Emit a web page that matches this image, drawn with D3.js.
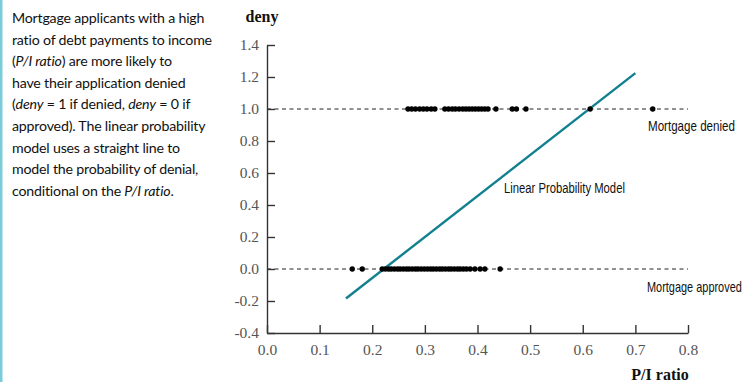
<!DOCTYPE html>
<html><head><meta charset="utf-8">
<script src="https://cdn.jsdelivr.net/npm/d3@7"></script>
<style>
html,body{margin:0;padding:0;background:#fff;}
svg{display:block;}
</style></head>
<body>
<svg id="c" width="745" height="382"></svg>
<script>
// ---- data ----
const deniedPI = [0.268, 0.275, 0.282, 0.290, 0.297, 0.304, 0.312, 0.319,
  0.338, 0.345, 0.352, 0.358, 0.365, 0.372, 0.378, 0.384, 0.390, 0.396, 0.402, 0.408, 0.414, 0.420,
  0.435, 0.466, 0.474, 0.492, 0.614, 0.733];
const approvedPI = [0.162, 0.181,
  0.219, 0.225, 0.231, 0.236, 0.242, 0.248, 0.253, 0.259, 0.265, 0.270, 0.276, 0.282, 0.287,
  0.293, 0.299, 0.305, 0.311, 0.316, 0.322, 0.328, 0.333, 0.339, 0.345, 0.350, 0.356, 0.362,
  0.367, 0.373, 0.379, 0.386, 0.395, 0.405, 0.414, 0.443];
const lpmPI = [0.15, 0.70];
const lpmDeny = [-0.184, 1.224];
const xTicks = [0, 0.1, 0.2, 0.3, 0.4, 0.5, 0.6, 0.7, 0.8];
const xTickLabels = ["0.0","0.1","0.2","0.3","0.4","0.5","0.6","0.7","0.8"];
const yTicks = [-0.4, -0.2, 0, 0.2, 0.4, 0.6, 0.8, 1.0, 1.2, 1.4];
const yTickLabels = ["-0.4","-0.2","0.0","0.2","0.4","0.6","0.8","1.0","1.2","1.4"];
const captionLines = [
  [["Mortgage applicants with a high", false]],
  [["ratio of debt payments to income", false]],
  [["(", false], ["P/I ratio", true], [") are more likely to", false]],
  [["have their application denied", false]],
  [["(", false], ["deny", true], [" = 1 if denied, ", false], ["deny", true], [" = 0 if", false]],
  [["approved). The linear probability", false]],
  [["model uses a straight line to", false]],
  [["model the probability of denial,", false]],
  [["conditional on the ", false], ["P/I ratio", true], [".", false]]
];

const svg = d3.select("#c");
const x = d3.scaleLinear().domain([0, 0.8]).range([267, 688]);
const y = d3.scaleLinear().domain([-0.4, 1.4]).range([333, 45]);

// left accent bar
svg.append("rect").attr("x", 0).attr("y", 0).attr("width", 2.5).attr("height", 382).attr("fill", "#7ccbd8");

// caption
const cap = svg.append("text").attr("font-family", "Lato, 'Open Sans', sans-serif")
  .attr("font-size", 14.2).attr("letter-spacing", -0.2).attr("fill", "#111");
captionLines.forEach((line, i) => {
  const t = cap.append("tspan").attr("x", 12).attr("y", 23 + i * 21.6);
  line.forEach(([s, it], j) => {
    const sp = j === 0 ? t : cap.append("tspan");
    sp.text(s).attr("font-style", it ? "italic" : null);
  });
});

// dashed reference lines
[0, 1].forEach(v => {
  svg.append("line").attr("x1", x(0)).attr("x2", x(0.8)).attr("y1", y(v)).attr("y2", y(v))
    .attr("stroke", "#222").attr("stroke-width", 1).attr("stroke-dasharray", "4,3.5");
});

// axes
const yAxis = d3.axisLeft(y).tickValues(yTicks).tickFormat((d, i) => yTickLabels[i])
  .tickSizeInner(-8).tickSizeOuter(0).tickPadding(8);
const xAxis = d3.axisBottom(x).tickValues(xTicks).tickFormat((d, i) => xTickLabels[i])
  .tickSizeInner(-8).tickSizeOuter(0).tickPadding(11);
const gy = svg.append("g").attr("transform", `translate(${x(0)},0)`).call(yAxis);
const gx = svg.append("g").attr("transform", `translate(0,${y(-0.4)})`).call(xAxis);
[gx, gy].forEach(g => {
  g.select(".domain").attr("stroke", "#333").attr("stroke-width", 1.4);
  g.selectAll(".tick line").attr("stroke", "#333").attr("stroke-width", 1.4);
  g.selectAll(".tick text").attr("font-family", "'Liberation Serif', serif")
    .attr("font-size", 15.5).attr("fill", "#555");
});

// LPM line
svg.append("line").attr("x1", x(lpmPI[0])).attr("y1", y(lpmDeny[0]))
  .attr("x2", x(lpmPI[1])).attr("y2", y(lpmDeny[1]))
  .attr("stroke", "#12808f").attr("stroke-width", 2.4);

// dots
svg.append("g").selectAll("circle").data(deniedPI).join("circle")
  .attr("cx", d => x(d)).attr("cy", y(1)).attr("r", 2.7).attr("fill", "#000");
svg.append("g").selectAll("circle").data(approvedPI).join("circle")
  .attr("cx", d => x(d)).attr("cy", y(0)).attr("r", 2.7).attr("fill", "#000");

// axis titles
svg.append("text").attr("x", 262).attr("y", 22).attr("text-anchor", "middle")
  .attr("font-family", "'Liberation Serif', serif").attr("font-weight", "bold")
  .attr("font-size", 16).attr("fill", "#111").text("deny");
svg.append("text").attr("x", 660).attr("y", 380).attr("text-anchor", "middle")
  .attr("font-family", "'Liberation Serif', serif").attr("font-weight", "bold")
  .attr("font-size", 16).attr("fill", "#111").text("P/I ratio");

// annotations (condensed by horizontal scaling)
function note(tx, ty, s, w) {
  const t = svg.append("text").attr("x", 0).attr("y", 0)
    .attr("font-family", "'Liberation Sans', sans-serif")
    .attr("font-size", 14).attr("fill", "#111").text(s);
  const nat = t.node().getComputedTextLength();
  t.attr("transform", `translate(${tx},${ty}) scale(${w / nat},1)`);
}
note(648, 131, "Mortgage denied", 87);
note(647, 292, "Mortgage approved", 95);
note(504, 193, "Linear Probability Model", 121);
</script>
</body></html>
